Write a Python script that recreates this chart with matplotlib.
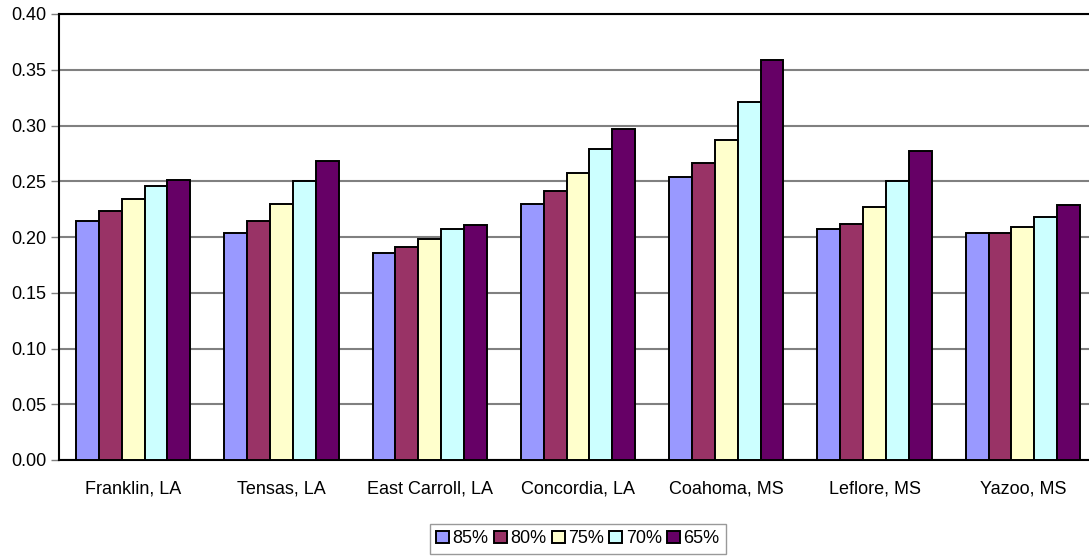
import numpy as np
import matplotlib.pyplot as plt

plt.rcParams['font.family'] = ['Liberation Sans', 'DejaVu Sans']

# 县名与各阈值下的数值
counties = ['Franklin, LA', 'Tensas, LA', 'East Carroll, LA', 'Concordia, LA',
            'Coahoma, MS', 'Leflore, MS', 'Yazoo, MS']
series_names = ['85%', '80%', '75%', '70%', '65%']
v85 = [0.214, 0.204, 0.186, 0.230, 0.254, 0.207, 0.204]
v80 = [0.223, 0.214, 0.191, 0.241, 0.266, 0.212, 0.204]
v75 = [0.234, 0.230, 0.198, 0.257, 0.287, 0.227, 0.209]
v70 = [0.246, 0.250, 0.207, 0.279, 0.321, 0.250, 0.218]
v65 = [0.251, 0.268, 0.211, 0.297, 0.359, 0.277, 0.229]
yticks = [0.00, 0.05, 0.10, 0.15, 0.20, 0.25, 0.30, 0.35, 0.40]

colors = ['#9999FF', '#993366', '#FFFFCC', '#CCFFFF', '#660066']
all_vals = [v85, v80, v75, v70, v65]

fig = plt.figure(figsize=(10.89, 5.59), dpi=100)
ax = fig.add_axes([59 / 1089, 99 / 559, 1038 / 1089, 446 / 559])

x = np.arange(len(counties))
w = 0.154
for i, (name, vals) in enumerate(zip(series_names, all_vals)):
    ax.bar(x + (i - 2) * w, vals, width=w, color=colors[i], edgecolor='black',
           linewidth=1.4, label=name, zorder=3)

ax.set_xlim(-0.5, len(counties) - 0.5)
ax.set_ylim(0, 0.40)
ax.set_yticks(yticks)
ax.set_yticklabels([f'{t:.2f}' for t in yticks], fontsize=13)
ax.set_xticks(x)
ax.set_xticklabels(counties, fontsize=13)
ax.tick_params(axis='x', length=0, pad=15)
ax.tick_params(axis='y', length=6, width=1, color='#808080', pad=3)
ax.yaxis.grid(True, color='#808080', linewidth=1.5, zorder=0)
ax.set_axisbelow(True)

for side in ['left', 'bottom', 'top']:
    ax.spines[side].set_color('black')
    ax.spines[side].set_linewidth(1.5)
ax.spines['right'].set_visible(False)

leg = fig.legend(loc='center', bbox_to_anchor=(578 / 1089, 0.036), ncol=5,
                 fontsize=13, frameon=True, fancybox=False, edgecolor='#808080',
                 handlelength=0.7, handleheight=0.7, handletextpad=0.2,
                 columnspacing=0.3, borderpad=0.35, borderaxespad=0)
leg.get_frame().set_linewidth(1.0)

fig.savefig('out.png', dpi=100)
